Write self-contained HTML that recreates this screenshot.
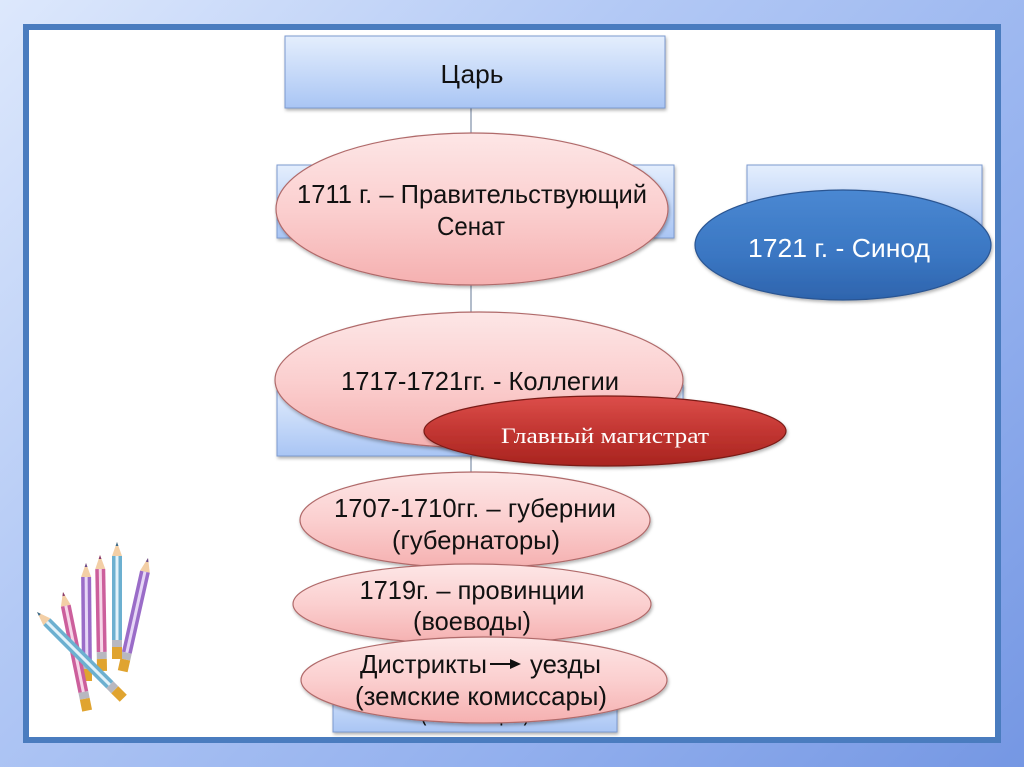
<!DOCTYPE html>
<html><head><meta charset="utf-8">
<style>
html,body{margin:0;padding:0;}
body{width:1024px;height:767px;overflow:hidden;position:relative;
background:linear-gradient(135deg,#dde8fc 0%,#b3c9f5 35%,#93b0ee 70%,#7597e3 100%);}
#frame{position:absolute;left:23px;top:24px;width:966px;height:707px;border:6px solid #4a7cbf;background:#fff;}
svg{position:absolute;left:0;top:0;}
text{font-family:"Liberation Sans",Arial,sans-serif;}
</style></head>
<body>
<div id="frame"></div>
<svg width="1024" height="767" viewBox="0 0 1024 767" xmlns="http://www.w3.org/2000/svg">
<defs>
<linearGradient id="box" x1="0" y1="0" x2="0" y2="1">
<stop offset="0" stop-color="#e4eefd"/><stop offset="1" stop-color="#a9c5f4"/>
</linearGradient>
<linearGradient id="pink" x1="0" y1="0" x2="0" y2="1">
<stop offset="0" stop-color="#fde6e6"/><stop offset="0.5" stop-color="#fbcfcf"/><stop offset="1" stop-color="#f5b0b0"/>
</linearGradient>
<linearGradient id="blue" x1="0" y1="0" x2="0" y2="1">
<stop offset="0" stop-color="#4a88d2"/><stop offset="0.6" stop-color="#3a76c2"/><stop offset="1" stop-color="#2e64ad"/>
</linearGradient>
<linearGradient id="red" x1="0" y1="0" x2="0" y2="1">
<stop offset="0" stop-color="#dc4e4a"/><stop offset="0.5" stop-color="#c23632"/><stop offset="1" stop-color="#a8241f"/>
</linearGradient>
<filter id="sh" x="-10%" y="-10%" width="130%" height="140%">
<feDropShadow dx="1" dy="2" stdDeviation="1.5" flood-color="#000" flood-opacity="0.3"/>
</filter>
</defs>

<!-- connector -->
<line x1="471" y1="108" x2="471" y2="480" stroke="#7f8fa8" stroke-width="1.2"/>

<!-- boxes -->
<rect x="285" y="36" width="380" height="72" fill="url(#box)" stroke="#7c9ad0" stroke-width="1" filter="url(#sh)"/>
<text x="472" y="83" font-size="26" text-anchor="middle" textLength="63" lengthAdjust="spacingAndGlyphs" fill="#111">Царь</text>

<rect x="277" y="165" width="397" height="73" fill="url(#box)" stroke="#7c9ad0" stroke-width="1" filter="url(#sh)"/>
<rect x="747" y="165" width="235" height="73" fill="url(#box)" stroke="#7c9ad0" stroke-width="1" filter="url(#sh)"/>
<rect x="277" y="385" width="406" height="71" fill="url(#box)" stroke="#7c9ad0" stroke-width="1" filter="url(#sh)"/>
<rect x="333" y="675" width="284" height="57" fill="url(#box)" stroke="#7c9ad0" stroke-width="1" filter="url(#sh)"/>
<text x="475" y="720" font-size="26" text-anchor="middle" textLength="110" lengthAdjust="spacingAndGlyphs" fill="#111">(комиссары)</text>

<!-- Senate -->
<ellipse cx="472" cy="209" rx="196" ry="76" fill="url(#pink)" stroke="#b06a6a" stroke-width="1.2" filter="url(#sh)"/>
<text x="472" y="203" font-size="26" text-anchor="middle" textLength="350" lengthAdjust="spacingAndGlyphs" fill="#111">1711 г. – Правительствующий</text>
<text x="471" y="235" font-size="26" text-anchor="middle" textLength="68" lengthAdjust="spacingAndGlyphs" fill="#111">Сенат</text>

<!-- Synod -->
<ellipse cx="843" cy="245" rx="148" ry="55" fill="url(#blue)" stroke="#2a5592" stroke-width="1.2" filter="url(#sh)"/>
<text x="839" y="257" font-size="26" text-anchor="middle" textLength="182" lengthAdjust="spacingAndGlyphs" fill="#fff">1721 г. - Синод</text>

<!-- Kollegii -->
<ellipse cx="479" cy="380" rx="204" ry="68" fill="url(#pink)" stroke="#b06a6a" stroke-width="1.2" filter="url(#sh)"/>
<text x="480" y="390" font-size="26" text-anchor="middle" textLength="278" lengthAdjust="spacingAndGlyphs" fill="#111">1717-1721гг. - Коллегии</text>

<!-- Magistrat -->
<ellipse cx="605" cy="431" rx="181" ry="35" fill="url(#red)" stroke="#7a1a18" stroke-width="1.2" filter="url(#sh)"/>
<text x="605" y="443" font-size="22" text-anchor="middle" textLength="208" lengthAdjust="spacingAndGlyphs" fill="#fff" style="font-family:'Liberation Serif','Times New Roman',serif">Главный магистрат</text>

<!-- Gubernii -->
<ellipse cx="475" cy="520" rx="175" ry="48" fill="url(#pink)" stroke="#b06a6a" stroke-width="1.2" filter="url(#sh)"/>
<text x="475" y="517" font-size="26" text-anchor="middle" textLength="282" lengthAdjust="spacingAndGlyphs" fill="#111">1707-1710гг. – губернии</text>
<text x="476" y="549" font-size="26" text-anchor="middle" textLength="168" lengthAdjust="spacingAndGlyphs" fill="#111">(губернаторы)</text>

<!-- Provintsii -->
<ellipse cx="472" cy="604" rx="179" ry="40" fill="url(#pink)" stroke="#b06a6a" stroke-width="1.2" filter="url(#sh)"/>
<text x="472" y="599" font-size="26" text-anchor="middle" textLength="225" lengthAdjust="spacingAndGlyphs" fill="#111">1719г. – провинции</text>
<text x="472" y="630" font-size="26" text-anchor="middle" textLength="118" lengthAdjust="spacingAndGlyphs" fill="#111">(воеводы)</text>

<!-- Distrikty -->
<ellipse cx="484" cy="680" rx="183" ry="43" fill="url(#pink)" stroke="#b06a6a" stroke-width="1.2" filter="url(#sh)"/>
<text x="360" y="673" font-size="26" textLength="127" lengthAdjust="spacingAndGlyphs" fill="#111">Дистрикты</text>
<line x1="490" y1="664" x2="512" y2="664" stroke="#111" stroke-width="2"/>
<polygon points="521,664 510,659 510,669" fill="#111"/>
<text x="530" y="673" font-size="26" textLength="71" lengthAdjust="spacingAndGlyphs" fill="#111">уезды</text>
<text x="481" y="705" font-size="26" text-anchor="middle" textLength="252" lengthAdjust="spacingAndGlyphs" fill="#111">(земские комиссары)</text>

<!-- pencils -->
<g id="pencils">
 <g transform="translate(148,558) rotate(102.6)">
  <polygon points="0,0 14,-5 14,5" fill="#f3cfa6"/><polygon points="0,0 4,-1.4 4,1.4" fill="#6a4a8a"/>
  <rect x="14" y="-5" width="83" height="10" fill="#9a6cc8"/><rect x="14" y="-1.5" width="83" height="3" fill="#e6d6f6"/>
  <rect x="97" y="-5" width="7" height="10" fill="#b8b8c0"/><rect x="104" y="-5" width="12" height="10" fill="#e0a430"/>
 </g>
 <g transform="translate(117,542) rotate(90)">
  <polygon points="0,0 14,-5 14,5" fill="#f3cfa6"/><polygon points="0,0 4,-1.4 4,1.4" fill="#3a6a8a"/>
  <rect x="14" y="-5" width="84" height="10" fill="#6cb0d0"/><rect x="14" y="-1.5" width="84" height="3" fill="#e2f2fa"/>
  <rect x="98" y="-5" width="7" height="10" fill="#b8b8c0"/><rect x="105" y="-5" width="12" height="10" fill="#e0a430"/>
 </g>
 <g transform="translate(100,555) rotate(89)">
  <polygon points="0,0 14,-5 14,5" fill="#f3cfa6"/><polygon points="0,0 4,-1.4 4,1.4" fill="#8a3a6a"/>
  <rect x="14" y="-5" width="83" height="10" fill="#cc5f9c"/><rect x="14" y="-1.5" width="83" height="3" fill="#f6d6e8"/>
  <rect x="97" y="-5" width="7" height="10" fill="#b8b8c0"/><rect x="104" y="-5" width="12" height="10" fill="#e0a430"/>
 </g>
 <g transform="translate(86,563) rotate(89.5)">
  <polygon points="0,0 14,-5 14,5" fill="#f3cfa6"/><polygon points="0,0 4,-1.4 4,1.4" fill="#6a4a8a"/>
  <rect x="14" y="-5" width="85" height="10" fill="#9a6cc8"/><rect x="14" y="-1.5" width="85" height="3" fill="#e6d6f6"/>
  <rect x="99" y="-5" width="7" height="10" fill="#b8b8c0"/><rect x="106" y="-5" width="12" height="10" fill="#e0a430"/>
 </g>
 <g transform="translate(63,592) rotate(78.5)">
  <polygon points="0,0 14,-5 14,5" fill="#f3cfa6"/><polygon points="0,0 4,-1.4 4,1.4" fill="#8a3a6a"/>
  <rect x="14" y="-5" width="88" height="10" fill="#cc5f9c"/><rect x="14" y="-1.5" width="88" height="3" fill="#f6d6e8"/>
  <rect x="102" y="-5" width="7" height="10" fill="#b8b8c0"/><rect x="109" y="-5" width="12" height="10" fill="#e0a430"/>
 </g>
 <g transform="translate(37,612) rotate(45)">
  <polygon points="0,0 14,-5 14,5" fill="#f3cfa6"/><polygon points="0,0 4,-1.4 4,1.4" fill="#3a6a8a"/>
  <rect x="14" y="-5" width="89" height="10" fill="#6cb0d0"/><rect x="14" y="-1.5" width="89" height="3" fill="#e2f2fa"/>
  <rect x="103" y="-5" width="7" height="10" fill="#b8b8c0"/><rect x="110" y="-5" width="12" height="10" fill="#e0a430"/>
 </g>
</g>
</svg>
</body></html>
